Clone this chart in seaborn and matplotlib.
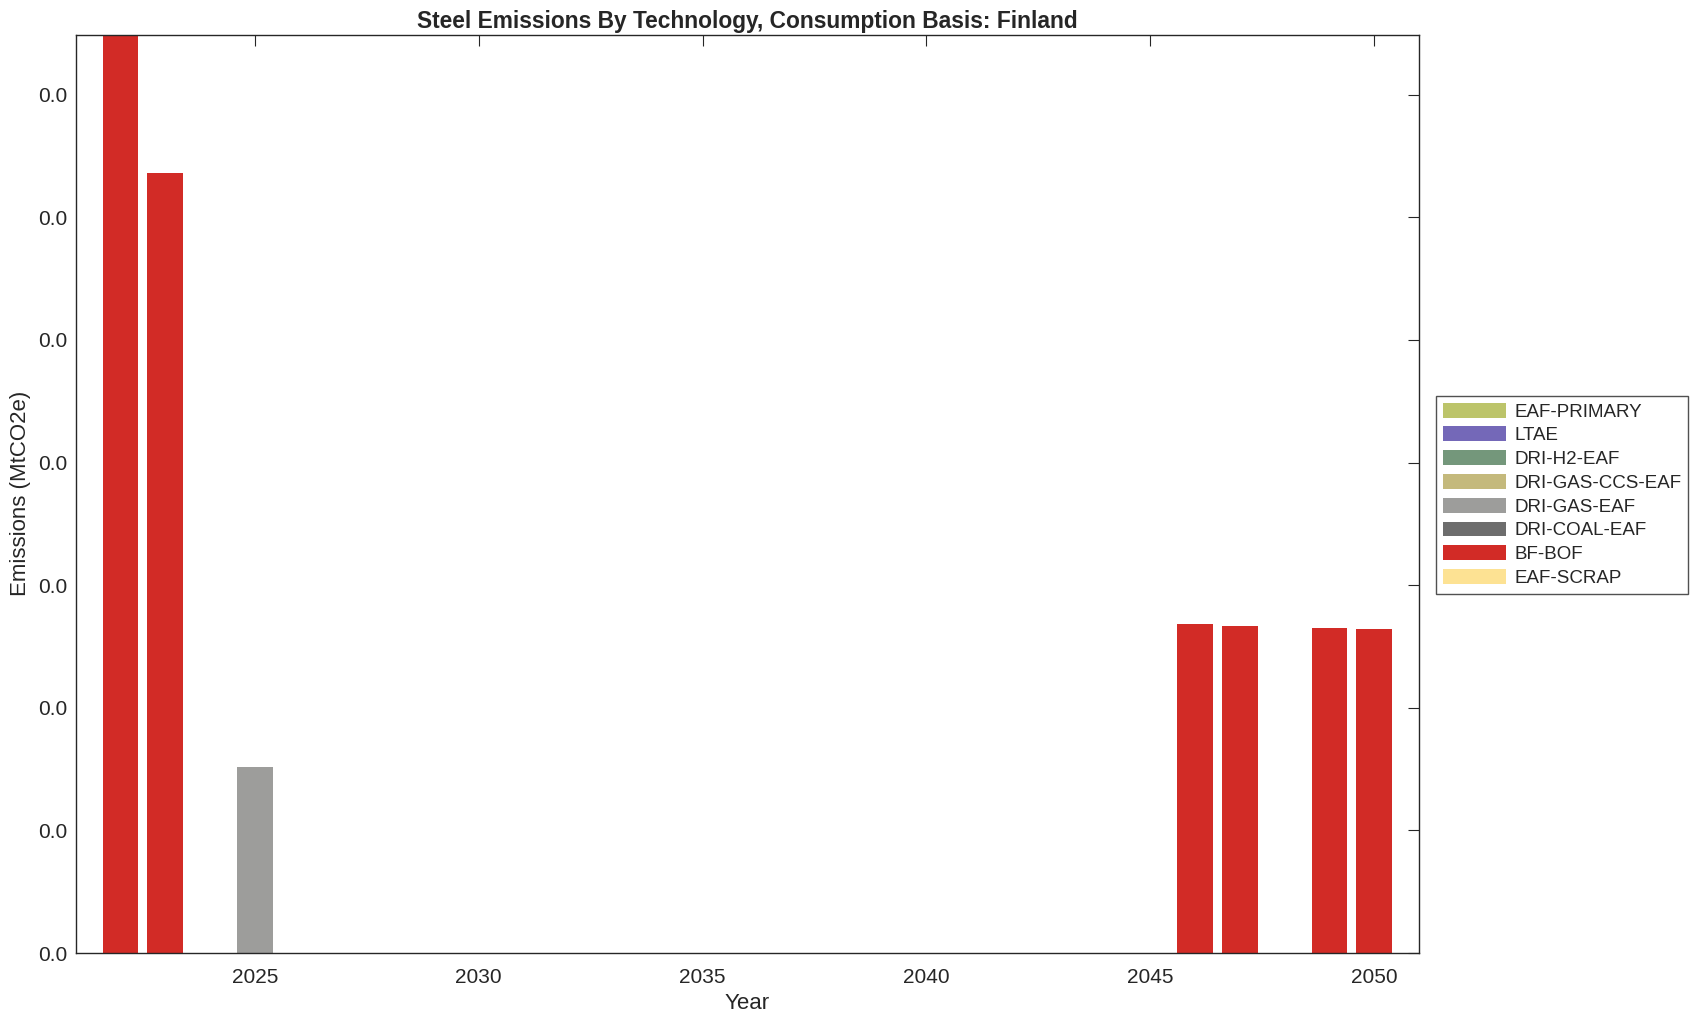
import matplotlib
matplotlib.use('Agg')
import matplotlib.pyplot as plt
import matplotlib.patches as mpatches
from matplotlib.ticker import MultipleLocator, FormatStrFormatter
import seaborn as sns
import pandas as pd

# 数据
techs = ['EAF-PRIMARY', 'LTAE', 'DRI-H2-EAF', 'DRI-GAS-CCS-EAF',
         'DRI-GAS-EAF', 'DRI-COAL-EAF', 'BF-BOF', 'EAF-SCRAP']
colors = ['#bcc46a', '#7468b8', '#74977b', '#c4b97c',
          '#9d9d9b', '#6d6d6d', '#d22b26', '#fde293']
years = [2022, 2023, 2025, 2046, 2047, 2049, 2050]
bf_bof = [0.00749, 0.00636, 0.0, 0.00268, 0.00267, 0.00265, 0.00264]
dri_gas_eaf = [0.0, 0.0, 0.00152, 0.0, 0.0, 0.0, 0.0]

rows = []
for t in techs:
    for i, y in enumerate(years):
        if t == 'BF-BOF':
            v = bf_bof[i]
        elif t == 'DRI-GAS-EAF':
            v = dri_gas_eaf[i]
        else:
            v = 0.0
        rows.append({'year': y, 'tech': t, 'value': v})
df = pd.DataFrame(rows)

sns.set_style('white')
plt.rcParams['font.family'] = ['Liberation Sans', 'DejaVu Sans']
plt.rcParams['axes.edgecolor'] = '#262626'
plt.rcParams['axes.linewidth'] = 1.0

fig = plt.figure(figsize=(16.96, 10.21), dpi=100)
ax = fig.add_axes([0.0446, 0.0666, 0.7921, 0.8994])

sns.histplot(data=df, x='year', weights='value', hue='tech', hue_order=techs,
             palette=dict(zip(techs, colors)), multiple='stack', discrete=True,
             shrink=0.8, linewidth=0, alpha=1, legend=False, ax=ax)

ax.set_xlim(2021, 2051)
ax.set_ylim(0, 0.00749)
ax.xaxis.set_major_locator(MultipleLocator(5))
ax.yaxis.set_major_locator(MultipleLocator(0.001))
ax.yaxis.set_major_formatter(FormatStrFormatter('%.1f'))
ax.tick_params(direction='in', length=8, width=0.8, top=True, right=True,
               labelsize=15, colors='#262626', pad=6)
ax.tick_params(axis='x', pad=11)
ax.set_xlabel('Year', fontsize=16, color='#262626', labelpad=4)
ax.set_ylabel('Emissions (MtCO2e)', fontsize=16, color='#262626', labelpad=5)
ax.set_title('Steel Emissions By Technology, Consumption Basis: Finland',
             fontsize=16.4, fontweight='bold', pad=5)
for s in ax.spines.values():
    s.set_visible(True)

handles = [mpatches.Patch(facecolor=c, edgecolor='none', label=t)
           for t, c in zip(techs, colors)]
leg = fig.legend(handles=handles, loc='upper left',
                 bbox_to_anchor=(0.8467, 0.6121), fontsize=13.5,
                 frameon=True, fancybox=False, edgecolor='#262626',
                 handlelength=3.4, handleheight=0.85, labelspacing=0.31,
                 borderpad=0.35, handletextpad=0.45, borderaxespad=0)
leg.get_frame().set_linewidth(1.0)

fig.savefig('out.png', dpi=100)
